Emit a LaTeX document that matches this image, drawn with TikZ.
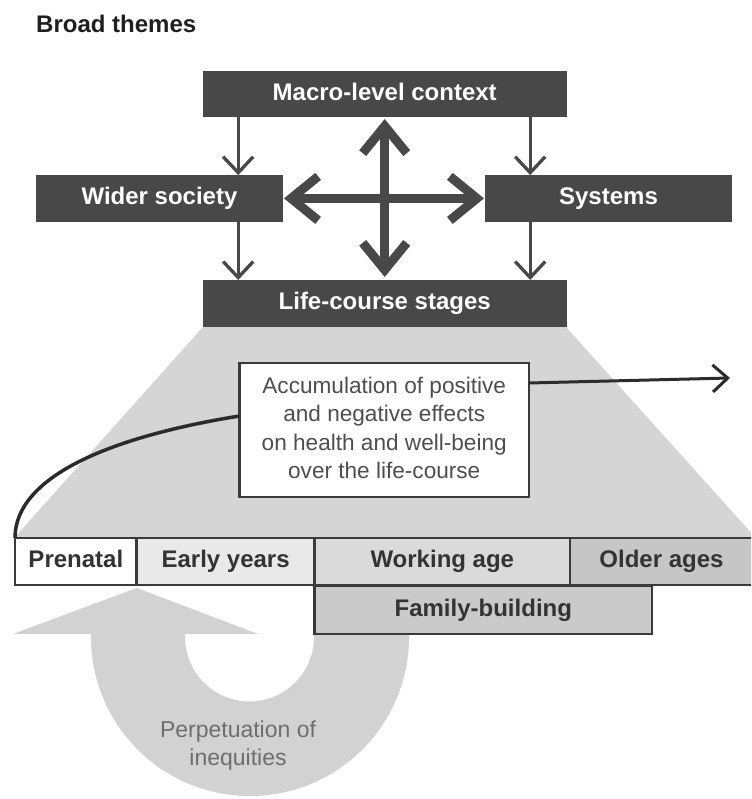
\documentclass[tikz,border=0pt]{standalone}
\usepackage{fontspec}
\setmainfont{Liberation Sans}
\usetikzlibrary{arrows.meta}
\definecolor{boxdark}{HTML}{484848}
\definecolor{edge}{HTML}{3A3A3A}
\definecolor{stagetext}{HTML}{333333}
\definecolor{bodytext}{HTML}{4E4E4E}
\definecolor{softtext}{HTML}{6E6E6E}
\definecolor{fangray}{HTML}{D5D5D5}
\definecolor{loopgray}{HTML}{D2D2D2}
\definecolor{earlygray}{HTML}{E9E9E9}
\definecolor{workinggray}{HTML}{DADADA}
\definecolor{oldergray}{HTML}{C6C6C6}
\definecolor{familygray}{HTML}{CACACA}
\definecolor{curveline}{HTML}{2B2B2B}
\begin{document}
\begin{tikzpicture}[x=1pt,y=1pt,
  boldlabel/.style={font=\fontsize{24}{28}\selectfont\bfseries},
  darkbox/.style={boldlabel, fill=boxdark, text=white, inner sep=0pt, outer sep=0pt,
    text height=17.5pt, text depth=5pt},
  stagebox/.style={boldlabel, draw=edge, line width=2.5pt, text=stagetext,
    inner sep=0pt, outer sep=0pt, minimum height=47pt, text height=17.5pt, text depth=5pt},
  flow/.style={draw=boxdark, line width=3.3pt, -{Straight Barb[length=16pt,width=30pt]}},
  link/.style={draw=boxdark, line width=9pt,
    {Straight Barb[length=27pt,width=44pt]}-{Straight Barb[length=27pt,width=44pt]}},
]
\useasboundingbox (0,0) rectangle (751,799);
\fill[white] (0,0) rectangle (751,799);
\clip (0,0) rectangle (751,799);

% title
\node[boldlabel, text=black!88, anchor=base west, inner sep=0pt] (title) at (36,766) {Broad themes};

% fan widening from the life-course box down to the stage bar
\fill[fangray] (203,472) -- (566,472) -- (755,262) -- (15,262) -- cycle;

% looping arrow under the stage bar
\fill[loopgray] (13,165) -- (136.7,211) -- (258,165) -- (185,165) -- (185,162)
  arc[start angle=180, end angle=360, radius=64.5pt] -- (314,230) -- (409,230) -- (409,162)
  arc[start angle=0, end angle=-180, radius=159pt] -- (91,165) -- cycle;

% broad themes
\node[darkbox, minimum width=364pt, minimum height=46.5pt] (macro) at (384.7,705.2) {Macro-level context};
\node[darkbox, minimum width=247pt, minimum height=46.5pt] (wider) at (159.5,600.6) {Wider society};
\node[darkbox, minimum width=247pt, minimum height=46.5pt] (systems) at (608.5,600.6) {Systems};
\node[darkbox, minimum width=364pt, minimum height=47pt] (life) at (384.7,495.5) {Life-course stages};

% thin flows
\coordinate (mL) at ([xshift=35.5pt]macro.south west);
\coordinate (mR) at ([xshift=-36.5pt]macro.south east);
\draw[flow] (mL) -- (mL |- wider.north);
\draw[flow] (mR) -- (mR |- systems.north);
\coordinate (wB) at (mL |- wider.south);
\coordinate (sB) at (mR |- systems.south);
\draw[flow] (wB) -- (wB |- life.north);
\draw[flow] (sB) -- (sB |- life.north);

% two-way links
\draw[link] ([yshift=-2pt]macro.south) -- ([yshift=3pt]life.north);
\draw[link] ([xshift=1pt]wider.east) -- ([xshift=-1pt]systems.west);

% stage bar
\node[stagebox, fill=white, minimum width=121.7pt] (prenatal) at (75.85,237.5) {Prenatal};
\node[stagebox, fill=earlygray, minimum width=177.9pt] (earlyyears) at (225.65,237.5) {Early years};
\node[stagebox, fill=workinggray, minimum width=255.4pt] (workingage) at (442.3,237.5) {Working age};
\node[stagebox, fill=oldergray, minimum width=183pt] (olderages) at (661.5,237.5) {Older ages};
\node[stagebox, fill=familygray, minimum width=337.4pt, minimum height=48pt] (familybuilding) at (483.3,189) {Family-building};

% accumulation curve
\node[draw=edge, line width=2.5pt, fill=white, minimum width=289.5pt, minimum height=134pt,
  inner sep=0pt, outer sep=0pt] (accum) at (384.25,369) {};
\draw[curveline, line width=3.5pt] (prenatal.north west) .. controls (15,322) and (109,362) .. ([yshift=14pt]accum.west);
\coordinate (later) at (730,421);
\draw[curveline, line width=3pt, -{Straight Barb[length=15pt,width=27pt]}] ([yshift=47pt]accum.east) -- (later);
\node[text=bodytext, align=center, font=\fontsize{22.6}{28.5}\selectfont] (accumtext) at (384.25,371)
  {Accumulation of positive\\and negative effects\\on health and well-being\\over the life-course};

% loop label
\node[text=softtext, align=center, font=\fontsize{23}{28}\selectfont] (perpetuation) at (238,53)
  {Perpetuation of\\inequities};
\end{tikzpicture}
\end{document}
